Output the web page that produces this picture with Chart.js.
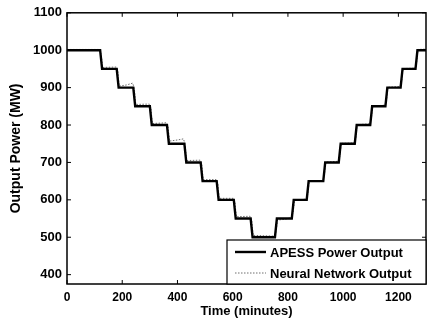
<!DOCTYPE html>
<html>
<head>
<meta charset="utf-8">
<script src="https://cdn.jsdelivr.net/npm/chart.js@4"></script>
<style>
  html, body { margin: 0; padding: 0; background: #fff; }
  #wrap { width: 427px; height: 320px; }
</style>
</head>
<body>
<div id="wrap"><canvas id="chart"></canvas></div>
<script>
// ── Data ─────────────────────────────────────────────────────
const xTicks = [0, 200, 400, 600, 800, 1000, 1200];
const yTicks = [400, 500, 600, 700, 800, 900, 1000, 1100];

// APESS power output (MW) vs time (minutes)
const apessTime  = [0, 120, 127, 180, 187, 240, 247, 300, 307, 362, 369, 425, 432,
                    484, 491, 542, 549, 604, 611, 665, 672, 753, 760, 814, 821,
                    868, 875, 928, 935, 984, 991, 1042, 1049, 1098, 1105, 1153, 1160,
                    1208, 1215, 1262, 1269, 1300];
const apessPower = [1000, 1000, 950, 950, 900, 900, 850, 850, 800, 800, 750, 750, 700,
                    700, 650, 650, 600, 600, 550, 550, 500, 500, 550, 550, 600,
                    600, 650, 650, 700, 700, 750, 750, 800, 800, 850, 850, 900,
                    900, 950, 950, 1000, 1000];

// Neural network output (MW) vs time (minutes)
const nnTime  = [0, 118, 124, 129, 178, 184, 189, 215, 238, 244, 249, 298, 304, 309,
                 360, 366, 371, 400, 422, 428, 433, 482, 488, 493, 540, 546, 551,
                 602, 608, 613, 663, 669, 674, 750, 757, 762, 790, 813, 819, 824,
                 866, 872, 877, 926, 932, 937, 982, 988, 993, 1040, 1046, 1051,
                 1096, 1102, 1107, 1151, 1157, 1162, 1206, 1212, 1217, 1260, 1266, 1271, 1300];
const nnPower = [1002, 1002, 988, 954, 955, 944, 904, 907, 912, 896, 855, 856, 845, 804,
                 806, 795, 757, 760, 763, 746, 705, 706, 694, 654, 654, 645, 604,
                 604, 595, 555, 556, 545, 505, 503, 514, 546, 548, 553, 566, 599,
                 602, 615, 649, 652, 665, 701, 703, 716, 751, 752, 765, 801,
                 803, 816, 851, 853, 866, 901, 903, 916, 951, 952, 966, 1002, 1003];

const seriesLabels = ['APESS Power Output', 'Neural Network Output'];

const FONT = "'Liberation Sans', Arial, Helvetica, sans-serif";

const toPoints = (xs, ys) => xs.map((x, i) => ({ x, y: ys[i] }));

// ── Frame, inward ticks and legend (MATLAB look) ─────────────
const matlabAxes = {
  id: 'matlabAxes',
  afterDraw(chart) {
    const { ctx, chartArea: { left, right, top, bottom } } = chart;
    const xs = chart.scales.x, ys = chart.scales.y;
    const tl = 4;
    ctx.save();
    ctx.strokeStyle = '#000';
    ctx.lineWidth = 1.5;
    ctx.strokeRect(left, top, right - left, bottom - top);
    ctx.lineWidth = 1;
    ctx.beginPath();
    xTicks.forEach(v => {
      const px = xs.getPixelForValue(v);
      ctx.moveTo(px, bottom); ctx.lineTo(px, bottom - tl);
      ctx.moveTo(px, top);    ctx.lineTo(px, top + tl);
    });
    yTicks.forEach(v => {
      const py = ys.getPixelForValue(v);
      ctx.moveTo(left, py);  ctx.lineTo(left + tl, py);
      ctx.moveTo(right, py); ctx.lineTo(right - tl, py);
    });
    ctx.stroke();

    // Legend box, bottom right inside the axes
    const bx = 227, by = 240, bw = right - bx, bh = bottom - by;
    ctx.fillStyle = '#fff';
    ctx.fillRect(bx, by, bw, bh);
    ctx.lineWidth = 1.2;
    ctx.strokeRect(bx, by, bw, bh);

    const rows = [by + 12, by + 33];
    chart.data.datasets.forEach((ds, i) => {
      ctx.strokeStyle = ds.borderColor;
      ctx.lineWidth = ds.borderWidth;
      ctx.setLineDash(ds.borderDash || []);
      ctx.beginPath();
      ctx.moveTo(bx + 8, rows[i]);
      ctx.lineTo(bx + 39, rows[i]);
      ctx.stroke();
      ctx.setLineDash([]);
      ctx.fillStyle = '#000';
      ctx.font = `bold 13px ${FONT}`;
      ctx.textAlign = 'left';
      ctx.textBaseline = 'middle';
      ctx.fillText(ds.label, bx + 43, rows[i] + 1);
    });
    ctx.restore();
  }
};

new Chart(document.getElementById('chart'), {
  type: 'line',
  data: {
    datasets: [
      {
        label:       seriesLabels[0],
        data:        toPoints(apessTime, apessPower),
        borderColor: '#000',
        borderWidth: 2.4,
        pointRadius: 0,
        tension:     0,
        fill:        false,
      },
      {
        label:       seriesLabels[1],
        data:        toPoints(nnTime, nnPower),
        borderColor: '#6e6e6e',
        borderWidth: 1,
        borderDash:  [1.5, 1.5],
        pointRadius: 0,
        tension:     0,
        fill:        false,
      }
    ]
  },
  options: {
    responsive:          true,
    maintainAspectRatio: false,
    animation:           false,
    layout: { padding: { top: 9, right: 1, left: 0, bottom: 0 } },
    plugins: {
      legend:  { display: false },
      tooltip: { enabled: false },
    },
    scales: {
      x: {
        type: 'linear',
        min: 0,
        max: 1300,
        afterBuildTicks: (s) => { s.ticks = xTicks.map(value => ({ value })); },
        afterFit: (s) => { s.height = 36; },
        grid:   { display: false, drawTicks: false },
        border: { display: false },
        ticks:  {
          color: '#000', padding: 6, maxRotation: 0,
          callback: (v) => String(v),
          font: { family: FONT, size: 12, weight: 'bold' }
        },
        title:  {
          display: true, text: 'Time (minutes)', color: '#000',
          font: { family: FONT, size: 13, weight: 'bold' },
          padding: { top: 0, bottom: 1 }
        }
      },
      y: {
        type: 'linear',
        min: 375,
        max: 1100,
        afterBuildTicks: (s) => { s.ticks = yTicks.map(value => ({ value })); },
        afterFit: (s) => { s.width = 67; },
        grid:   { display: false, drawTicks: false },
        border: { display: false },
        ticks:  {
          color: '#000', padding: 5,
          callback: (v) => String(v),
          font: { family: FONT, size: 13, weight: 'bold' }
        },
        title:  {
          display: true, text: 'Output Power (MW)', color: '#000',
          font: { family: FONT, size: 14, weight: 'bold' },
          padding: { top: 8, bottom: 0 }
        }
      }
    }
  },
  plugins: [matlabAxes]
});
</script>
</body>
</html>
